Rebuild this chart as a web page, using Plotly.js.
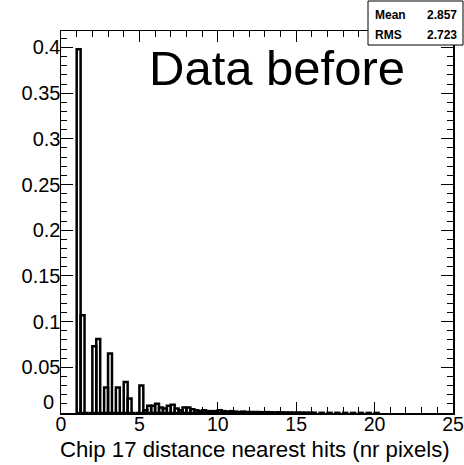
<!DOCTYPE html>
<html>
<head>
<meta charset="utf-8">
<script src="https://cdn.plot.ly/plotly-3.0.1.min.js"></script>
<style>html,body{margin:0;padding:0;background:#fff;}#chart{width:464px;height:465px;}</style>
</head>
<body>
<div id="chart"></div>
<script>
// Histogram: bin width 0.25, bins starting at these left edges
const binWidth = 0.25;
const binLeftEdges = [
  1.0, 1.25, 1.5, 1.75, 2.0, 2.25, 2.5, 2.75, 3.0, 3.25,
  3.5, 3.75, 4.0, 4.25, 4.5, 4.75, 5.0, 5.25, 5.5, 5.75,
  6.0, 6.25, 6.5, 6.75, 7.0, 7.25, 7.5, 7.75, 8.0, 8.25,
  8.5, 8.75, 9.0, 9.25, 9.5, 9.75, 10.0, 10.25, 10.5, 10.75,
  11.0, 11.25, 11.5, 11.75, 12.0, 12.25, 12.5, 12.75, 13.0, 13.25,
  13.5, 13.75, 14.0, 14.25, 14.5, 14.75, 15.0, 15.25, 15.5, 15.75,
  16.0, 16.5, 17.0, 17.5, 18.0, 18.5, 19.0, 19.5, 20.0
];
const binValues = [
  0.398, 0.107, 0, 0, 0.073, 0.081, 0, 0.028, 0.065, 0,
  0.028, 0, 0.034, 0.016, 0, 0, 0.030, 0.003, 0.008, 0.008,
  0.010, 0.006, 0.005, 0.008, 0.009, 0.005, 0.003, 0.006, 0.006, 0.004,
  0.003, 0.002, 0.003, 0.002, 0.002, 0.002, 0.003, 0.002, 0.0015, 0.002,
  0.0015, 0.001, 0.0015, 0.001, 0.001, 0.001, 0.001, 0.0008, 0.001, 0.0008,
  0.0006, 0.0008, 0.0006, 0.0005, 0.0005, 0.0004, 0.0005, 0.0004, 0.0003, 0.0003,
  0.0003, 0.0002, 0.0002, 0.0002, 0.0001, 0.0001, 0.0001, 0.0001, 0.0001
];
const xTickVals = [0, 5, 10, 15, 20, 25];
const yTickVals = [0.05, 0.1, 0.15, 0.2, 0.25, 0.3, 0.35, 0.4];
const yTickText = ["0.05", "0.1", "0.15", "0.2", "0.25", "0.3", "0.35", "0.4"];
const histTitle = "Data before";
const xTitle = "Chip 17 distance nearest hits (nr pixels)";
const statLabels = ["Mean", "RMS"];
const statValues = ["2.857", "2.723"];

const centers = binLeftEdges.map(e => e + binWidth / 2);
const FONT = "Liberation Sans, Arial, Helvetica, sans-serif";

const trace = {
  type: "bar",
  x: centers,
  y: binValues,
  width: binWidth,
  marker: { color: "rgba(255,255,255,0)", line: { color: "#000", width: 2.5 } },
  hoverinfo: "x+y"
};

const annotations = [
  { text: histTitle, xref: "paper", yref: "paper", x: 0.552, y: 0.902,
    xanchor: "center", yanchor: "middle", showarrow: false,
    font: { family: FONT, size: 49, color: "#000" } },
  { text: xTitle, xref: "paper", yref: "paper", x: (452 - 61) / 392, y: (413 - 449) / 382,
    xanchor: "right", yanchor: "middle", showarrow: false,
    font: { family: FONT, size: 22.2, color: "#000" } },
  // y-axis origin label, drawn slightly raised as in the reference
  { text: "0", xref: "paper", yref: "paper", x: (56 - 61) / 392, y: (413 - 402) / 382,
    xanchor: "right", yanchor: "middle", showarrow: false,
    font: { family: FONT, size: 20, color: "#000" } }
];
const rowY = [15, 35];
statLabels.forEach((lab, i) => {
  const yp = (413 - rowY[i]) / 382;
  annotations.push({ text: "<b>" + lab + "</b>", xref: "paper", yref: "paper",
    x: (373 - 61) / 392, y: yp, xanchor: "left", yanchor: "middle", showarrow: false,
    font: { family: FONT, size: 12, color: "#000" } });
  annotations.push({ text: "<b>" + statValues[i] + "</b>", xref: "paper", yref: "paper",
    x: (459 - 61) / 392, y: yp, xanchor: "right", yanchor: "middle", showarrow: false,
    font: { family: FONT, size: 12, color: "#000" } });
});

const layout = {
  width: 464, height: 465,
  margin: { l: 61, r: 11, t: 31, b: 52, pad: 0 },
  paper_bgcolor: "#fff", plot_bgcolor: "#fff",
  showlegend: false,
  bargap: 0,
  font: { family: FONT, color: "#000" },
  xaxis: {
    range: [0, 25], tickmode: "array", tickvals: xTickVals,
    ticks: "inside", ticklen: 11, tickwidth: 1, tickcolor: "#000",
    minor: { dtick: 1, tick0: 0, ticks: "inside", ticklen: 6, tickwidth: 1, tickcolor: "#000" },
    showline: true, linecolor: "#000", linewidth: 1.5, mirror: "ticks",
    showgrid: false, zeroline: false,
    ticklabelstandoff: -7, ticklabeloverflow: "allow",
    tickfont: { family: FONT, size: 19.5, color: "#000" }
  },
  yaxis: {
    range: [0, 0.418], tickmode: "array", tickvals: yTickVals, ticktext: yTickText,
    ticks: "inside", ticklen: 12, tickwidth: 1, tickcolor: "#000",
    minor: { dtick: 0.01, tick0: 0, ticks: "inside", ticklen: 6, tickwidth: 1, tickcolor: "#000" },
    showline: true, linecolor: "#000", linewidth: 1.5, mirror: "ticks",
    showgrid: false, zeroline: false,
    ticklabelstandoff: -5,
    tickfont: { family: FONT, size: 20, color: "#000" }
  },
  shapes: [
    { type: "rect", xref: "paper", yref: "paper",
      x0: (368 - 61) / 392, x1: (463 - 61) / 392,
      y0: (413 - 45) / 382, y1: (413 - 1) / 382,
      line: { color: "#000", width: 1 }, fillcolor: "#fff", layer: "above" }
  ],
  annotations: annotations
};

Plotly.newPlot("chart", [trace], layout, { staticPlot: true, displayModeBar: false });
</script>
</body>
</html>
